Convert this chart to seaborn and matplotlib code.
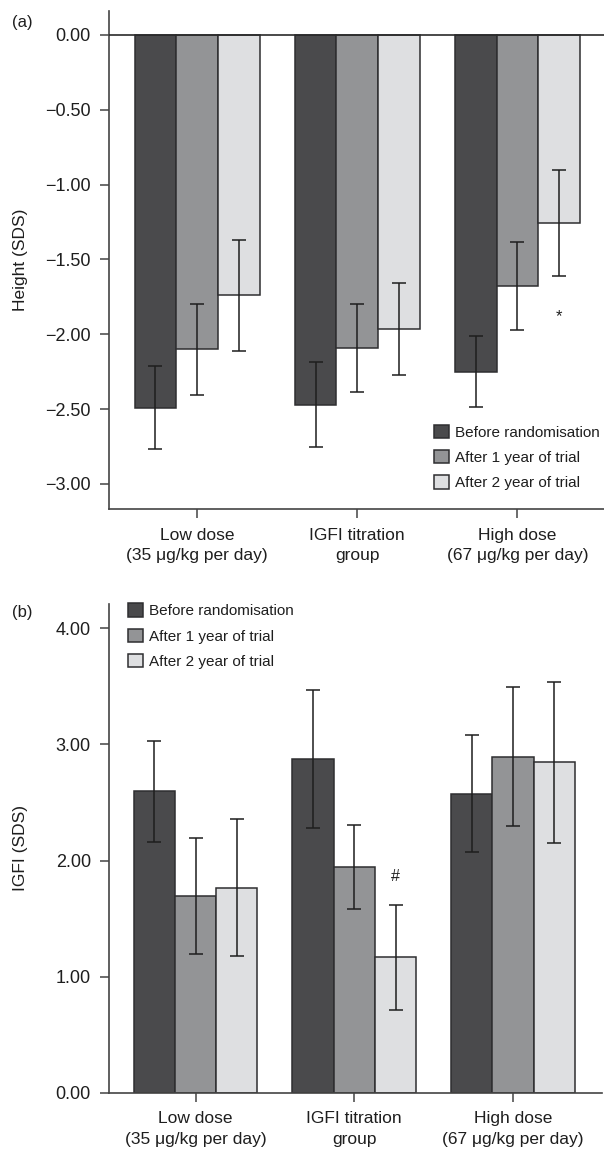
import numpy as np
import pandas as pd
import matplotlib
matplotlib.use("Agg")
import matplotlib.pyplot as plt
import seaborn as sns

# Treatment groups and time points
groups = ["Low dose\n(35 \u03bcg/kg per day)", "IGFI titration\ngroup", "High dose\n(67 \u03bcg/kg per day)"]
times = ["Before randomisation", "After 1 year of trial", "After 2 year of trial"]

# (a) Height SDS: means and error half-widths, one row per group
height_mean = [[-2.49, -2.10, -1.74],
               [-2.47, -2.09, -1.965],
               [-2.25, -1.68, -1.255]]
height_err = [[0.28, 0.305, 0.37],
              [0.285, 0.295, 0.305],
              [0.235, 0.295, 0.355]]

# (b) IGFI SDS
igf_mean = [[2.595, 1.695, 1.765],
            [2.875, 1.945, 1.165],
            [2.575, 2.895, 2.845]]
igf_err = [[0.435, 0.50, 0.59],
           [0.595, 0.36, 0.45],
           [0.505, 0.60, 0.69]]

colors = ["#4a4a4c", "#939496", "#dedfe1"]
edge = "#2e2e30"
text_c = "#1e1e1e"

sns.set_theme(style="white")
plt.rcParams["font.family"] = ["Liberation Sans", "DejaVu Sans"]
plt.rcParams["text.color"] = text_c
plt.rcParams["axes.labelcolor"] = text_c

W, H = 604.0, 1152.0


def long_frame(means):
    rows = []
    for gi, g in enumerate(groups):
        for ti, t in enumerate(times):
            rows.append({"group": g, "time": t, "value": means[gi][ti]})
    return pd.DataFrame(rows)


def draw_panel(ax, means, errs, ylabel, yticks, ylim, xlim):
    df = long_frame(means)
    sns.barplot(data=df, x="group", y="value", hue="time", order=groups,
                hue_order=times, palette=colors, width=0.78, gap=0,
                edgecolor=edge, linewidth=1.1, errorbar=None, saturation=1,
                ax=ax)
    bar_sets = list(ax.containers)
    for ti, cont in enumerate(bar_sets):
        xs = [p.get_x() + p.get_width() / 2 for p in cont.patches]
        ys = [means[gi][ti] for gi in range(len(groups))]
        es = [errs[gi][ti] for gi in range(len(groups))]
        ax.errorbar(xs, ys, yerr=es, fmt="none", ecolor="#1e1e1e",
                    elinewidth=1.1, capsize=5, capthick=1.1, zorder=5)
    ax.set_xlim(*xlim)
    ax.set_ylim(*ylim)
    ax.set_yticks(yticks)
    ax.set_yticklabels([f"{v:.2f}".replace("-", "\u2212") for v in yticks])
    ax.set_xticks(range(len(groups)))
    ax.set_xticklabels(groups, linespacing=1.45)
    ax.set_xlabel("")
    ax.set_ylabel(ylabel, fontsize=12.5)
    # place the rotated label so its right edge sits at x = 28 px
    pos = ax.get_position()
    ax_w_px = pos.width * W
    ax.yaxis.set_label_coords((28 - pos.x0 * W) / ax_w_px, 0.5)
    for s in ["top", "right"]:
        ax.spines[s].set_visible(False)
    for s in ["left", "bottom"]:
        ax.spines[s].set_color("#444444")
        ax.spines[s].set_linewidth(1.2)
    ax.tick_params(axis="both", direction="out", length=6.5, width=1.1,
                   color="#444444", labelcolor=text_c, labelsize=12.5,
                   left=True, bottom=True)
    ax.tick_params(axis="y", pad=6.5, labelsize=13)
    ax.tick_params(axis="x", pad=7)
    return ax


fig = plt.figure(figsize=(6.04, 11.52), dpi=100)

# Panel (a)
ax1 = fig.add_axes([109 / W, 1 - 509.3 / H, (604 - 109) / W, (509.3 - 11) / H])
draw_panel(ax1, height_mean, height_err, "Height (SDS)",
           [0.0, -0.5, -1.0, -1.5, -2.0, -2.5, -3.0], (-3.17, 0.16), (-0.55, 2.54))
ax1.axhline(0, color="#2a2a2a", linewidth=1.2, zorder=6)
ax1.text(2.26, -1.88, "*", ha="center", va="center", fontsize=12, color=text_c)
handles1, labels1 = ax1.get_legend_handles_labels()
ax1.legend(handles1, labels1, loc="upper left",
           bbox_to_anchor=(434 / W, 1 - 425 / H), bbox_transform=fig.transFigure,
           frameon=False, fontsize=11, handlelength=0.95, handleheight=0.95,
           handletextpad=0.45, labelspacing=0.68, borderpad=0, borderaxespad=0)

# Panel (b)
ax2 = fig.add_axes([109 / W, 1 - 1092.7 / H, (602 - 109) / W, (1092.7 - 604) / H])
draw_panel(ax2, igf_mean, igf_err, "IGFI (SDS)",
           [0.0, 1.0, 2.0, 3.0, 4.0], (0, 4.21), (-0.545, 2.56))
ax2.text(1.26, 1.86, "#", ha="center", va="center", fontsize=11.5, color=text_c)
handles2, labels2 = ax2.get_legend_handles_labels()
ax2.legend(handles2, labels2, loc="upper left",
           bbox_to_anchor=(128 / W, 1 - 603.5 / H), bbox_transform=fig.transFigure,
           frameon=False, fontsize=11, handlelength=0.95, handleheight=0.95,
           handletextpad=0.45, labelspacing=0.68, borderpad=0, borderaxespad=0)

# Panel letters
fig.text(12 / W, 1 - 22 / H, "(a)", fontsize=12, va="center", ha="left")
fig.text(12 / W, 1 - 612 / H, "(b)", fontsize=12, va="center", ha="left")

fig.savefig("out.png", dpi=100)
